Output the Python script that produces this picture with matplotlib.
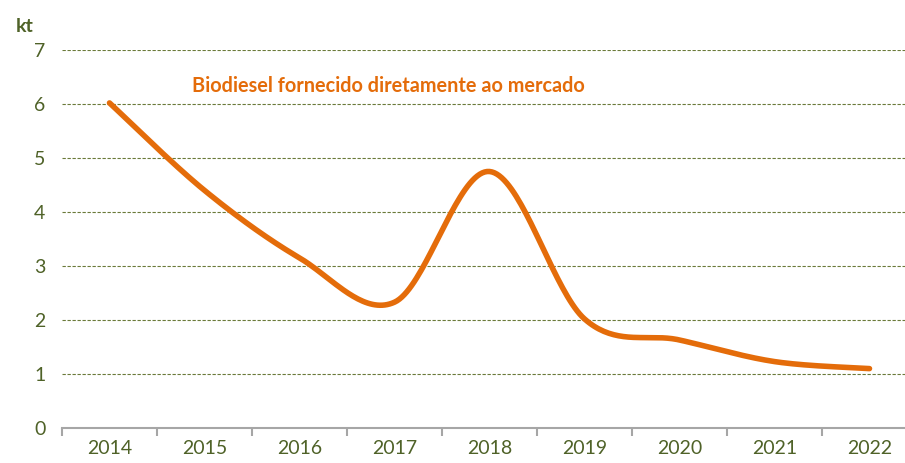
import numpy as np
import matplotlib.pyplot as plt

# -------------------------------------------------------------------------
# DATA
# -------------------------------------------------------------------------
years = ["2014", "2015", "2016", "2017", "2018", "2019", "2020", "2021", "2022"]
biodiesel = [6.02, 4.40, 3.15, 2.33, 4.75, 2.02, 1.63, 1.23, 1.10]
y_ticks = [0, 1, 2, 3, 4, 5, 6, 7]
series_label = "Biodiesel fornecido diretamente ao mercado"
unit_label = "kt"

ORANGE = "#E46C0A"
GREEN = "#4F6228"
GRID = "#6B7A3A"
AXIS = "#A6A6A6"

plt.rcParams["font.family"] = ["Lato", "DejaVu Sans"]


def smooth(x, y, n=40):
    # Catmull-Rom style smoothing, like the spreadsheet "smoothed line"
    x = np.asarray(x, float)
    y = np.asarray(y, float)
    px = np.concatenate([[x[0]], x, [x[-1]]])
    py = np.concatenate([[y[0]], y, [y[-1]]])
    xs, ys = [], []
    for i in range(1, len(px) - 2):
        p0, p1, p2, p3 = (np.array([px[j], py[j]]) for j in range(i - 1, i + 3))
        c1 = p1 + (p2 - p0) / 6
        c2 = p2 - (p3 - p1) / 6
        t = np.linspace(0, 1, n)[:, None]
        b = ((1 - t) ** 3) * p1 + 3 * ((1 - t) ** 2) * t * c1 + 3 * (1 - t) * t ** 2 * c2 + t ** 3 * p2
        xs.append(b[:, 0])
        ys.append(b[:, 1])
    return np.concatenate(xs), np.concatenate(ys)


fig = plt.figure(figsize=(9.05, 4.63), dpi=100)
ax = fig.add_axes([62 / 905, 35 / 463, 855 / 905, 378 / 463])

xpos = np.arange(len(years))
sx, sy = smooth(xpos, biodiesel)
ax.plot(sx, sy, color=ORANGE, lw=4, solid_capstyle="round", zorder=3)

ax.set_xlim(-0.5, len(years) - 0.5)
ax.set_ylim(0, 7)

# gridlines
for v in y_ticks[1:]:
    ax.axhline(v, color=GRID, lw=0.8, ls=(0, (3, 1.5)), zorder=1)

ax.set_yticks(y_ticks)
ax.set_yticklabels([str(v) for v in y_ticks], color=GREEN, fontsize=14)
ax.tick_params(axis="y", length=0, pad=12)

ax.set_xticks(xpos)
ax.set_xticklabels(years, color=GREEN, fontsize=14)
ax.tick_params(axis="x", which="major", length=0, pad=9)
ax.set_xticks(np.arange(-0.5, len(years), 1), minor=True)
ax.tick_params(axis="x", which="minor", length=6, width=1.5, color=AXIS, direction="out")

for s in ["top", "right", "left"]:
    ax.spines[s].set_visible(False)
ax.spines["bottom"].set_color(AXIS)
ax.spines["bottom"].set_linewidth(1.5)

ax.text(0.87, 6.33, series_label, color=ORANGE, fontsize=14.3, fontweight="bold",
        ha="left", va="center")
fig.text(16 / 905, 1 - 27 / 463, unit_label, color=GREEN, fontsize=14,
         fontweight="bold", ha="left", va="center")

fig.savefig("out.png", dpi=100)
